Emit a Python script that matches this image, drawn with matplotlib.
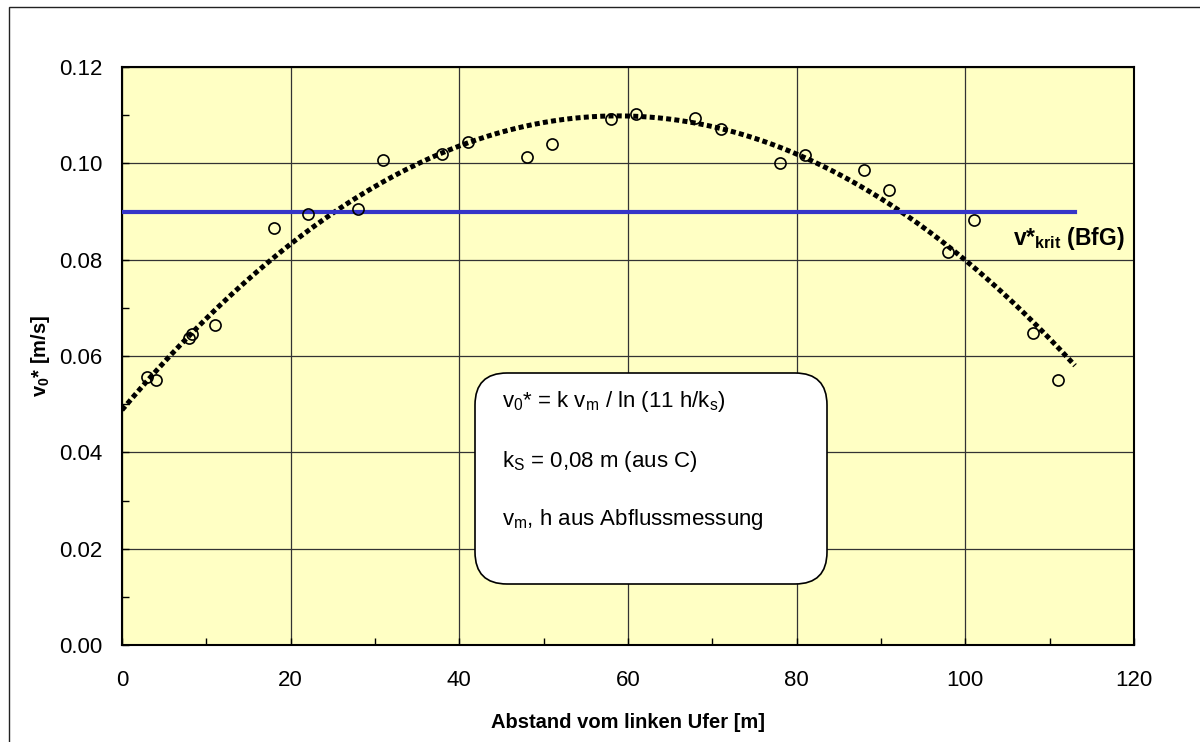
import numpy as np
import matplotlib
matplotlib.use("Agg")
import matplotlib.pyplot as plt
from matplotlib.patches import FancyBboxPatch, Rectangle
from matplotlib.ticker import MultipleLocator, FormatStrFormatter
from matplotlib.transforms import Affine2D

plt.rcParams["font.family"] = ["Liberation Sans", "DejaVu Sans"]
plt.rcParams["mathtext.fontset"] = "custom"
plt.rcParams["mathtext.rm"] = "Liberation Sans"
plt.rcParams["mathtext.it"] = "Liberation Sans:italic"
plt.rcParams["mathtext.bf"] = "Liberation Sans:bold"

# Measured shear velocity across the river section
distance_m = [3, 4, 8, 8.3, 11, 18, 22, 28, 31, 38, 41, 48, 51, 58, 61,
              68, 71, 78, 81, 88, 91, 98, 101, 108, 111]
v0_star = [0.0556, 0.0550, 0.0638, 0.0645, 0.0665, 0.0865, 0.0894, 0.0906,
           0.1006, 0.1020, 0.1044, 0.1014, 0.1040, 0.1092, 0.1103,
           0.1094, 0.1072, 0.1001, 0.1017, 0.0987, 0.0944, 0.0816, 0.0883,
           0.0647, 0.0551]

# Critical shear velocity (BfG) and the span it is drawn over
v_krit = 0.09
section_end = 113

fig = plt.figure(figsize=(12, 7.42), dpi=100)

# outer chart frame
fig.patches.append(Rectangle((9 / 1200, -0.05), 1.2, 1 - 7 / 742 + 0.05,
                             transform=fig.transFigure, fill=False,
                             edgecolor="#222222", linewidth=1.0))

ax = fig.add_axes([122 / 1200, 1 - 645 / 742, (1134 - 122) / 1200, (645 - 67) / 742])
ax.set_facecolor("#FFFFC4")
ax.set_xlim(0, 120)
ax.set_ylim(0, 0.12)

ax.xaxis.set_major_locator(MultipleLocator(20))
ax.xaxis.set_minor_locator(MultipleLocator(10))
ax.yaxis.set_major_locator(MultipleLocator(0.02))
ax.yaxis.set_minor_locator(MultipleLocator(0.01))
ax.yaxis.set_major_formatter(FormatStrFormatter("%.2f"))
ax.grid(True, which="major", color="#333333", linewidth=0.9)
ax.set_axisbelow(True)
ax.tick_params(which="both", direction="in", length=5, width=1, labelsize=16,
               colors="black")
ax.tick_params(axis="x", pad=18)
ax.tick_params(axis="y", pad=14)
for sp in ax.spines.values():
    sp.set_linewidth(1.5)
    sp.set_color("black")

# quadratic trend line through the measurements
coef = np.polyfit(distance_m, v0_star, 2)
xs = np.linspace(0, section_end, 400)
ax.plot(xs, np.polyval(coef, xs), color="black", linewidth=3.6,
        linestyle=(0, (1, 0.65)), dash_capstyle="butt", zorder=3)

ax.plot([0, section_end], [v_krit, v_krit], color="#3535C8", linewidth=3.0, zorder=4)

ax.plot(distance_m, v0_star, linestyle="none", marker="o", markersize=8,
        markerfacecolor="none", markeredgecolor="black", markeredgewidth=1.2,
        zorder=5)

ax.text(118.9, 0.0844, r"v*$_{\mathbf{krit}}$ (BfG)", fontsize=16.5,
        fontweight="bold", ha="right", va="center", zorder=6)

ax.set_xlabel("Abstand vom linken Ufer [m]", fontsize=14.5, fontweight="bold",
              labelpad=16)
ax.set_ylabel(r"v$_{\mathbf{0}}$* [m/s]", fontsize=14.5, fontweight="bold",
              labelpad=5)

# formula box
box = FancyBboxPatch((475, 373), 352, 211, boxstyle="round,pad=0,rounding_size=32",
                     facecolor="white", edgecolor="black",
                     linewidth=1.2, zorder=6)
box.set_transform(Affine2D().scale(1, -1).translate(0, 742))
box.set_clip_on(False)
ax.add_patch(box)

lines = [
    (402, r"v$_0$* = k v$_{\mathrm{m}}$ / ln (11 h/k$_{\mathrm{s}}$)"),
    (461, r"k$_{\mathrm{S}}$ = 0,08 m (aus C)"),
    (520, r"v$_{\mathrm{m}}$, h aus Abflussmessung"),
]
for ypx, s in lines:
    fig.text(502 / 1200, 1 - ypx / 742, s, fontsize=16, ha="left", va="center",
             zorder=7)

fig.savefig("out.png", dpi=100)
